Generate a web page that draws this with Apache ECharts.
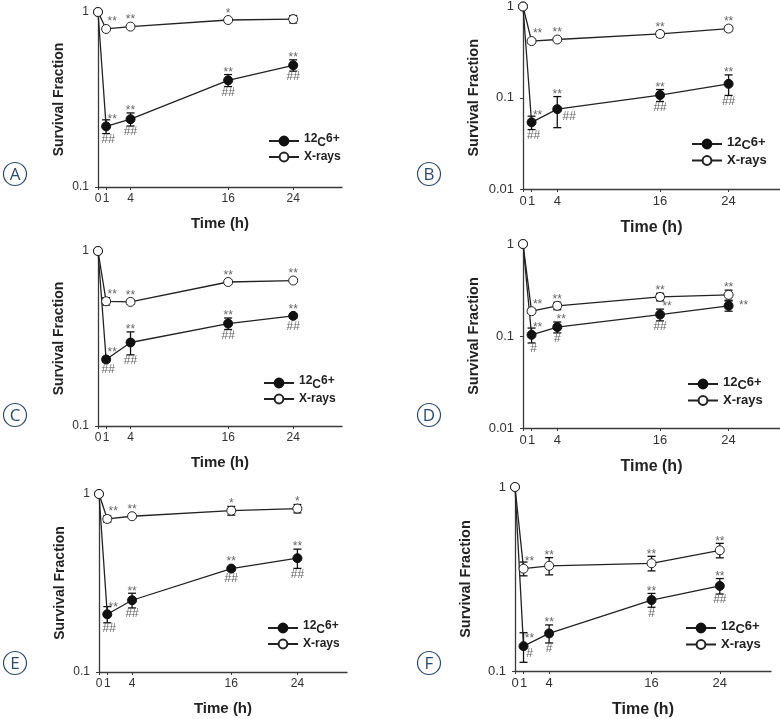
<!DOCTYPE html>
<html>
<head>
<meta charset="utf-8">
<script src="https://cdn.jsdelivr.net/npm/echarts@6/dist/echarts.min.js"></script>
<style>
html,body{margin:0;padding:0;background:#fff;}
#chart{width:780px;height:719px;}
</style>
</head>
<body>
<div id="chart"></div>
<script>
// ---------- DATA ----------
const hours = [0, 1, 4, 16, 24];
const tickHours = [0, 1, 4, 16, 24];
const seriesNames = ['12C6+', 'X-rays'];
const panelLetters = ['A', 'B', 'C', 'D', 'E', 'F'];

// Panel A
const aCarbon = [1, 0.222, 0.244, 0.407, 0.496];
const aCarbonErr = [0, 0.02, 0.021, 0.032, 0.037];
const aXray = [1, 0.80, 0.825, 0.90, 0.91];
const aXrayErr = [0, 0.015, 0.015, 0.015, 0.045];
const aCarbonStars = ['', '**', '**', '**', '**'];
const aCarbonHash = ['', '##', '##', '##', '##'];
const aXrayStars = ['', '**', '**', '*', ''];
const aYMin = 0.1;

// Panel B
const bCarbon = [1, 0.0538, 0.075, 0.107, 0.142];
const bCarbonErr = [0, 0.009, 0.028, 0.016, 0.036];
const bXray = [1, 0.418, 0.435, 0.50, 0.573];
const bXrayErr = [0, 0.02, 0.02, 0.035, 0.035];
const bCarbonStars = ['', '**', '**', '**', '**'];
const bCarbonHash = ['', '##', '##', '##', '##'];
const bXrayStars = ['', '**', '**', '**', '**'];
const bYMin = 0.01;

// Panel C
const cCarbon = [1, 0.24, 0.30, 0.385, 0.426];
const cCarbonErr = [0, 0.008, 0.045, 0.029, 0.012];
const cXray = [1, 0.516, 0.512, 0.665, 0.678];
const cXrayErr = [0, 0.025, 0.015, 0.015, 0.015];
const cCarbonStars = ['', '**', '**', '**', '**'];
const cCarbonHash = ['', '##', '##', '##', '##'];
const cXrayStars = ['', '**', '**', '**', '**'];
const cYMin = 0.1;

// Panel D
const dCarbon = [1, 0.103, 0.125, 0.171, 0.213];
const dCarbonErr = [0, 0.019, 0.017, 0.025, 0.027];
const dXray = [1, 0.186, 0.213, 0.266, 0.28];
const dXrayErr = [0, 0.01, 0.02, 0.025, 0.035];
const dCarbonStars = ['', '**', '**', '**', '**'];
const dCarbonHash = ['', '#', '#', '##', ''];
const dXrayStars = ['', '**', '**', '**', '**'];
const dYMin = 0.01;

// Panel E
const eCarbon = [1, 0.211, 0.253, 0.381, 0.436];
const eCarbonErr = [0, 0.022, 0.024, 0.01, 0.054];
const eXray = [1, 0.724, 0.75, 0.806, 0.828];
const eXrayErr = [0, 0.03, 0.02, 0.045, 0.045];
const eCarbonStars = ['', '**', '**', '**', '**'];
const eCarbonHash = ['', '##', '##', '##', '##'];
const eXrayStars = ['', '**', '**', '*', '*'];
const eYMin = 0.1;

// Panel F
const fCarbon = [1, 0.1365, 0.16, 0.243, 0.29];
const fCarbonErr = [0, 0.025, 0.018, 0.021, 0.028];
const fXray = [1, 0.36, 0.373, 0.385, 0.453];
const fXrayErr = [0, 0.031, 0.04, 0.035, 0.041];
const fCarbonStars = ['', '**', '**', '**', '**'];
const fCarbonHash = ['', '#', '#', '#', '##'];
const fXrayStars = ['', '**', '**', '**', '**'];
const fYMin = 0.1;

// ---------- LAYOUT ----------
const panelData = [
  {carbon: aCarbon, cErr: aCarbonErr, xray: aXray, xErr: aXrayErr, cStars: aCarbonStars, cHash: aCarbonHash, xStars: aXrayStars, ymin: aYMin},
  {carbon: bCarbon, cErr: bCarbonErr, xray: bXray, xErr: bXrayErr, cStars: bCarbonStars, cHash: bCarbonHash, xStars: bXrayStars, ymin: bYMin},
  {carbon: cCarbon, cErr: cCarbonErr, xray: cXray, xErr: cXrayErr, cStars: cCarbonStars, cHash: cCarbonHash, xStars: cXrayStars, ymin: cYMin},
  {carbon: dCarbon, cErr: dCarbonErr, xray: dXray, xErr: dXrayErr, cStars: dCarbonStars, cHash: dCarbonHash, xStars: dXrayStars, ymin: dYMin},
  {carbon: eCarbon, cErr: eCarbonErr, xray: eXray, xErr: eXrayErr, cStars: eCarbonStars, cHash: eCarbonHash, xStars: eXrayStars, ymin: eYMin},
  {carbon: fCarbon, cErr: fCarbonErr, xray: fXray, xErr: fXrayErr, cStars: fCarbonStars, cHash: fCarbonHash, xStars: fXrayStars, ymin: fYMin}
];

const layout = [
  {grid: {left: 98, top: 12, width: 244, height: 175}, legend: [263, 127], badge: [15, 174], big: false},
  {grid: {left: 523, top: 4, width: 257, height: 185}, legend: [686, 129], badge: [429, 174], big: true},
  {grid: {left: 98, top: 251, width: 244, height: 175}, legend: [258, 369], badge: [15, 415], big: false},
  {grid: {left: 523, top: 244, width: 257, height: 184}, legend: [682, 369], badge: [429, 415], big: true},
  {grid: {left: 99, top: 494, width: 248, height: 178}, legend: [262, 614], badge: [15, 663], big: false},
  {grid: {left: 515, top: 487, width: 256, height: 185}, legend: [680, 613], badge: [429, 663], big: true}
];

// annotation nudges: key panel|series|index|kind -> [dx, side]
const nudges = {
  '1|c|2|hash': [12, 'side'],
  '3|c|4|stars': [15, 'side'],
  '3|c|3|stars': [7, null],
  '3|c|2|stars': [4, null],
  '5|c|1|hash': [6, 'side']
};

const AX = '#3a3a3a';
const TXT = '#333';
const ANN = '#666';
const BADGE = '#2d4b70';

function fmtLog(v) { return String(+(+v).toPrecision(3)); }

const option = {
  animation: false,
  backgroundColor: '#fff',
  grid: [], xAxis: [], yAxis: [], series: [], legend: [], graphic: []
};

function errSeries(pi, key, vals, errs, stars, hashes) {
  return {
    type: 'custom',
    xAxisIndex: pi, yAxisIndex: pi,
    z: 3,
    clip: false,
    silent: true,
    data: hours.map((h, k) => [h, vals[k], errs[k], k]),
    renderItem: function (params, api) {
      const h = api.value(0), v = api.value(1), e = api.value(2), k = api.value(3);
      const p = api.coord([h, v]);
      const children = [];
      let topY = p[1] - 4.5, botY = p[1] + 4.5;
      if (e > 0) {
        const pt = api.coord([h, v + e]);
        const pb = api.coord([h, v - e]);
        children.push({type: 'line', shape: {x1: p[0], y1: pt[1], x2: p[0], y2: pb[1]}, style: {stroke: '#111', lineWidth: 1.3}});
        children.push({type: 'line', shape: {x1: p[0] - 4, y1: pt[1], x2: p[0] + 4, y2: pt[1]}, style: {stroke: '#111', lineWidth: 1.3}});
        children.push({type: 'line', shape: {x1: p[0] - 4, y1: pb[1], x2: p[0] + 4, y2: pb[1]}, style: {stroke: '#111', lineWidth: 1.3}});
        topY = Math.min(topY, pt[1]);
        botY = Math.max(botY, pb[1]);
      }
      const s = stars ? stars[k] : '';
      if (s) {
        const nd = nudges[pi + '|' + key + '|' + k + '|stars'];
        let x = p[0] + (h <= 1 ? 6 : 0), y = (h <= 1 ? p[1] - 1 : topY + 4);
        if (nd) { x = p[0] + nd[0]; if (nd[1] === 'side') y = p[1] + 6; }
        children.push({type: 'text', x: x, y: y, style: {text: s, fill: ANN, fontSize: 12, fontFamily: 'Liberation Sans, Arial', align: 'center', verticalAlign: 'bottom'}});
      }
      const hs = hashes ? hashes[k] : '';
      if (hs) {
        const nd = nudges[pi + '|' + key + '|' + k + '|hash'];
        let x = p[0] + (h <= 1 ? 2 : 0), y = botY;
        if (nd) { x = p[0] + nd[0]; if (nd[1] === 'side') y = p[1] + 2; }
        children.push({type: 'text', x: x, y: y, style: {text: hs, fill: ANN, fontSize: 12, fontFamily: 'Liberation Sans, Arial', align: 'center', verticalAlign: 'top'}});
      }
      return {type: 'group', children: children};
    }
  };
}

panelData.forEach((pd, i) => {
  const L = layout[i];
  const big = L.big;
  option.grid.push(Object.assign({containLabel: false}, L.grid));
  option.xAxis.push({
    type: 'value', gridIndex: i, min: 0, max: 30,
    name: 'Time (h)', nameLocation: 'middle', nameGap: big ? 31 : 29,
    nameTextStyle: {fontFamily: 'Liberation Sans, Arial', fontWeight: 'bold', fontSize: big ? 16 : 15, color: '#222'},
    axisLine: {lineStyle: {color: AX, width: 1.3}},
    axisTick: {show: true, length: 3, inside: false, customValues: tickHours, lineStyle: {color: AX}},
    axisLabel: {customValues: tickHours, color: TXT, fontSize: big ? 13 : 12, fontFamily: 'Liberation Sans, Arial', margin: 6},
    splitLine: {show: false}
  });
  option.yAxis.push({
    type: 'log', logBase: 10, gridIndex: i, min: pd.ymin, max: 1,
    name: 'Survival Fraction', nameLocation: 'middle', nameGap: big ? 42 : 32,
    nameTextStyle: {fontFamily: 'Liberation Sans, Arial', fontWeight: 'bold', fontSize: big ? 14.5 : 14, color: '#222'},
    axisLine: {show: true, lineStyle: {color: AX, width: 1.3}},
    axisTick: {show: true, length: 3, lineStyle: {color: AX}},
    axisLabel: {formatter: fmtLog, color: TXT, fontSize: big ? 13 : 12, fontFamily: 'Liberation Sans, Arial', margin: 9},
    splitLine: {show: false},
    minorTick: {show: false}
  });
  option.series.push(errSeries(i, 'c', pd.carbon, pd.cErr, pd.cStars, pd.cHash));
  option.series.push(errSeries(i, 'x', pd.xray, pd.xErr, pd.xStars, null));
  option.series.push({
    type: 'line', name: seriesNames[0], xAxisIndex: i, yAxisIndex: i, z: 4, clip: false,
    data: hours.map((h, k) => [h, pd.carbon[k]]),
    symbol: 'circle', symbolSize: 9,
    itemStyle: {color: '#111', borderColor: '#111', borderWidth: 1},
    lineStyle: {color: '#222', width: 1.3}
  });
  option.series.push({
    type: 'line', name: seriesNames[1], xAxisIndex: i, yAxisIndex: i, z: 5, clip: false,
    data: hours.map((h, k) => [h, pd.xray[k]]),
    symbol: 'circle', symbolSize: 9,
    itemStyle: {color: '#fff', borderColor: '#222', borderWidth: 1},
    lineStyle: {color: '#222', width: 1.3}
  });
  const fs = big ? 13 : 12;
  option.legend.push({
    left: L.legend[0], top: L.legend[1], orient: 'vertical',
    itemWidth: 30, itemHeight: 11, itemGap: 2, selectedMode: false,
    data: seriesNames,
    formatter: n => n === '12C6+' ? '{sup|12}{base|C}{sup|6+}' : '{b|X-rays}',
    textStyle: {
      padding: [0, 0, 0, 0],
      rich: {
        sup: {fontSize: fs, fontWeight: 'bold', fontFamily: 'Liberation Sans, Arial', color: '#222', verticalAlign: 'top', lineHeight: 16},
        base: {fontSize: fs, fontWeight: 'bold', fontFamily: 'Liberation Sans, Arial', color: '#222', verticalAlign: 'bottom', lineHeight: 16, padding: [5, 0, 0, 0]},
        b: {fontSize: fs, fontWeight: 'bold', fontFamily: 'Liberation Sans, Arial', color: '#222', lineHeight: 16}
      }
    }
  });
  option.graphic.push({
    type: 'circle', shape: {cx: L.badge[0], cy: L.badge[1], r: 11.5},
    style: {fill: 'none', stroke: BADGE, lineWidth: 1.2}, silent: true
  });
  option.graphic.push({
    type: 'text', x: L.badge[0], y: L.badge[1] + 1,
    style: {text: panelLetters[i], fill: BADGE, fontSize: 17, fontFamily: 'Open Sans', align: 'center', verticalAlign: 'middle'}, silent: true
  });
});

const chart = echarts.init(document.getElementById('chart'), null, {renderer: 'canvas'});
chart.setOption(option);
</script>
</body>
</html>
